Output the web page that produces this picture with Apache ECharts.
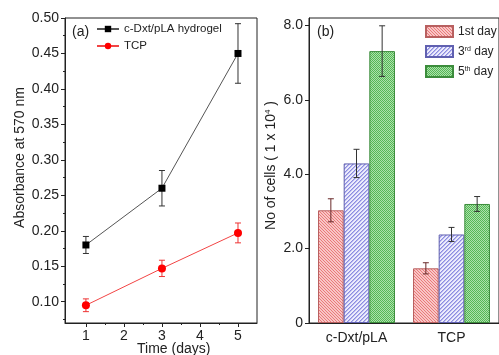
<!DOCTYPE html>
<html>
<head>
<meta charset="utf-8">
<script src="https://cdn.jsdelivr.net/npm/echarts@6/dist/echarts.min.js"></script>
<style>
  html, body { margin: 0; padding: 0; background: #fff; }
  #chart { width: 499px; height: 355px; }
</style>
</head>
<body>
<div id="chart"></div>
<script>
// Panel (a): absorbance over time
const timeDays = [1, 3, 5];
const hydrogelAbs = [0.18, 0.26, 0.45];
const hydrogelErr = [0.012, 0.025, 0.042];
const tcpAbs = [0.095, 0.147, 0.197];
const tcpErr = [0.009, 0.0115, 0.014];
const timeTicks = [1, 2, 3, 4, 5];
const absTicks = [0.10, 0.15, 0.20, 0.25, 0.30, 0.35, 0.40, 0.45, 0.50];

// Panel (b): cell counts (x 10^4)
const substrates = ['c-Dxt/pLA', 'TCP'];
const day1Cells = [3.03, 1.47];
const day1Err = [0.31, 0.15];
const day3Cells = [4.29, 2.38];
const day3Err = [0.38, 0.19];
const day5Cells = [7.31, 3.20];
const day5Err = [0.68, 0.20];
const dayNames = ['1st day', '3rd day', '5th day'];

const FONT = "'Liberation Sans', Arial, Helvetica, sans-serif";
const AX = '#222';

// small tiled fills for the hatched bars
function tile(size, pick) {
  const c = document.createElement('canvas');
  c.width = size; c.height = size;
  const g = c.getContext('2d');
  for (let x = 0; x < size; x++) {
    for (let y = 0; y < size; y++) {
      g.fillStyle = pick(x, y);
      g.fillRect(x, y, 1, 1);
    }
  }
  return { image: c, repeat: 'repeat' };
}
const redHatch = tile(6, (x, y) => (((x - y) % 3 + 3) % 3 === 0 ? '#ea7a7a' : '#f8c6c6'));
const blueHatch = tile(8, (x, y) => {
  const m = (x + y) % 4;
  return m === 0 ? '#8c8ce0' : (m === 1 ? '#b8b8ee' : '#ececfc');
});
const greenHatch = tile(4, (x, y) => ((x + y) % 2 === 0 ? '#55b855' : '#ace0ac'));

const gapRatio = 0.19;

function errLineItem(color) {
  return function (params, api) {
    const x = api.value(0), y = api.value(1), e = api.value(2);
    const top = api.coord([x, y + e]);
    const bot = api.coord([x, y - e]);
    const cx = top[0], hw = 3;
    const st = { stroke: color, lineWidth: 1 };
    return {
      type: 'group',
      children: [
        { type: 'line', shape: { x1: cx, y1: top[1], x2: cx, y2: bot[1] }, style: st },
        { type: 'line', shape: { x1: cx - hw, y1: top[1], x2: cx + hw, y2: top[1] }, style: st },
        { type: 'line', shape: { x1: cx - hw, y1: bot[1], x2: cx + hw, y2: bot[1] }, style: st }
      ]
    };
  };
}

function barErrItem(k, color) {
  return function (params, api) {
    const ci = api.value(0), v = api.value(1), e = api.value(2);
    const band = api.size([1, 0])[0];
    const bw = band * (1 - gapRatio) / 3;
    const c = api.coord([ci, v]);
    const cx = c[0] + (k - 1) * bw;
    const top = api.coord([ci, v + e])[1];
    const bot = api.coord([ci, v - e])[1];
    const hw = 3;
    const st = { stroke: color, lineWidth: 1 };
    return {
      type: 'group',
      children: [
        { type: 'line', shape: { x1: cx, y1: top, x2: cx, y2: bot }, style: st },
        { type: 'line', shape: { x1: cx - hw, y1: top, x2: cx + hw, y2: top }, style: st },
        { type: 'line', shape: { x1: cx - hw, y1: bot, x2: cx + hw, y2: bot }, style: st }
      ]
    };
  };
}

const half = (arr) => arr.slice(0, -1).map((v, i) => +(((v + arr[i + 1]) / 2).toFixed(3)));

const chart = echarts.init(document.getElementById('chart'), null, { renderer: 'canvas' });

const axisLabelStyle = { color: AX, fontFamily: FONT, fontSize: 14 };

chart.setOption({
  animation: false,
  textStyle: { fontFamily: FONT },
  grid: [
    { left: 65, top: 18, width: 192, height: 305, show: true, borderColor: AX, borderWidth: 1, containLabel: false },
    { left: 309, top: 18, width: 192, height: 305, show: true, borderColor: AX, borderWidth: 1, containLabel: false }
  ],
  legend: [
    {
      data: ['c-Dxt/pLA hydrogel', 'TCP'],
      orient: 'vertical', left: 91, top: 18,
      itemWidth: 22, itemHeight: 8, itemGap: 5,
      textStyle: { color: AX, fontFamily: FONT, fontSize: 11.5 }
    },
    {
      data: dayNames,
      orient: 'vertical', left: 420, top: 20,
      itemWidth: 27, itemHeight: 11, itemGap: 7,
      icon: 'rect',
      formatter: function (n) {
        if (n === '3rd day') return '{a|3}{s|rd}{a| day}';
        if (n === '5th day') return '{a|5}{s|th}{a| day}';
        return '{a|' + n + '}';
      },
      textStyle: {
        color: AX, fontFamily: FONT, fontSize: 12,
        rich: {
          a: { fontFamily: FONT, fontSize: 12, color: AX },
          s: { fontFamily: FONT, fontSize: 7, color: AX, verticalAlign: 'top', padding: [0, 0, 5, 0] }
        }
      }
    }
  ],
  graphic: [
    { type: 'text', left: 72, top: 25, style: { text: '(a)', font: '14px ' + FONT, fill: AX } },
    { type: 'text', left: 317, top: 25, style: { text: '(b)', font: '14px ' + FONT, fill: AX } },
    { type: 'text', left: 137, top: 342, style: { text: 'Time (days)', font: '14px ' + FONT, fill: AX } }
  ],
  xAxis: [
    {
      gridIndex: 0, type: 'value', min: 0.45, max: 5.5,
      axisLine: { lineStyle: { color: AX, width: 1 } },
      axisTick: { inside: false, length: 4, lineStyle: { color: AX }, customValues: timeTicks },
      axisLabel: Object.assign({ margin: 6, customValues: timeTicks, formatter: v => String(v) }, axisLabelStyle),
      splitLine: { show: false }
    },
    {
      gridIndex: 0, type: 'value', min: 0.45, max: 5.5, position: 'bottom',
      axisLine: { show: false },
      axisTick: { inside: false, length: 2, lineStyle: { color: AX }, customValues: half(timeTicks) },
      axisLabel: { show: false, customValues: half(timeTicks) },
      splitLine: { show: false }
    },
    {
      gridIndex: 1, type: 'category', data: substrates,
      axisLine: { lineStyle: { color: AX, width: 1 } },
      axisTick: { show: false },
      axisLabel: Object.assign({ margin: 8 }, axisLabelStyle),
      splitLine: { show: false }
    }
  ],
  yAxis: [
    {
      gridIndex: 0, type: 'value', min: 0.07, max: 0.50,
      name: 'Absorbance at 570 nm', nameLocation: 'middle', nameGap: 38,
      nameTextStyle: { color: AX, fontFamily: FONT, fontSize: 14, padding: [0, 0, 0, 26] },
      axisLine: { show: true, lineStyle: { color: AX, width: 1 } },
      axisTick: { show: true, inside: false, length: 4, lineStyle: { color: AX }, customValues: absTicks },
      axisLabel: Object.assign({ margin: 6, customValues: absTicks, formatter: v => v.toFixed(2) }, axisLabelStyle),
      splitLine: { show: false }
    },
    {
      gridIndex: 0, type: 'value', min: 0.07, max: 0.50, position: 'left',
      axisLine: { show: false },
      axisTick: { show: true, inside: false, length: 2, lineStyle: { color: AX }, customValues: [0.075].concat(half(absTicks)) },
      axisLabel: { show: false, customValues: [0.075].concat(half(absTicks)) },
      splitLine: { show: false }
    },
    {
      gridIndex: 1, type: 'value', min: 0, max: 8.2, interval: 2,
      name: 'No of cells ( 1 x 10{sup|4} )', nameLocation: 'middle', nameGap: 31,
      nameTextStyle: {
        color: AX, fontFamily: FONT, fontSize: 14, padding: [0, 0, 0, 10],
        rich: { sup: { fontFamily: FONT, fontSize: 8, color: AX, verticalAlign: 'top', padding: [0, 0, 6, 0] } }
      },
      axisLine: { show: true, lineStyle: { color: AX, width: 1 } },
      axisTick: { show: true, inside: false, length: 4, lineStyle: { color: AX } },
      axisLabel: Object.assign({ margin: 6, formatter: v => (v === 0 ? '0' : v.toFixed(1)) }, axisLabelStyle),
      splitLine: { show: false }
    }
  ],
  series: [
    {
      name: 'c-Dxt/pLA hydrogel', type: 'line', xAxisIndex: 0, yAxisIndex: 0,
      data: timeDays.map((d, i) => [d, hydrogelAbs[i]]),
      symbol: 'rect', symbolSize: 7,
      lineStyle: { color: '#555', width: 1 },
      itemStyle: { color: '#000' }, z: 3
    },
    {
      name: 'TCP', type: 'line', xAxisIndex: 0, yAxisIndex: 0,
      data: timeDays.map((d, i) => [d, tcpAbs[i]]),
      symbol: 'circle', symbolSize: 8,
      lineStyle: { color: '#f24444', width: 1 },
      itemStyle: { color: '#f00' }, z: 3
    },
    {
      type: 'custom', xAxisIndex: 0, yAxisIndex: 0, z: 2,
      data: timeDays.map((d, i) => [d, hydrogelAbs[i], hydrogelErr[i]]),
      renderItem: errLineItem('#333')
    },
    {
      type: 'custom', xAxisIndex: 0, yAxisIndex: 0, z: 2,
      data: timeDays.map((d, i) => [d, tcpAbs[i], tcpErr[i]]),
      renderItem: errLineItem('#e33')
    },
    {
      name: dayNames[0], type: 'bar', xAxisIndex: 2, yAxisIndex: 2,
      data: day1Cells, barGap: '0%', barCategoryGap: '19%',
      itemStyle: { color: redHatch, borderColor: '#b86060', borderWidth: 1 }
    },
    {
      name: dayNames[1], type: 'bar', xAxisIndex: 2, yAxisIndex: 2,
      data: day3Cells, barGap: '0%', barCategoryGap: '19%',
      itemStyle: { color: blueHatch, borderColor: '#6060b0', borderWidth: 1 }
    },
    {
      name: dayNames[2], type: 'bar', xAxisIndex: 2, yAxisIndex: 2,
      data: day5Cells, barGap: '0%', barCategoryGap: '19%',
      itemStyle: { color: greenHatch, borderColor: '#3c8c3c', borderWidth: 1 }
    },
    {
      type: 'custom', xAxisIndex: 2, yAxisIndex: 2, z: 5,
      data: substrates.map((s, i) => [i, day1Cells[i], day1Err[i]]),
      renderItem: barErrItem(0, '#6a2a2a')
    },
    {
      type: 'custom', xAxisIndex: 2, yAxisIndex: 2, z: 5,
      data: substrates.map((s, i) => [i, day3Cells[i], day3Err[i]]),
      renderItem: barErrItem(1, '#333')
    },
    {
      type: 'custom', xAxisIndex: 2, yAxisIndex: 2, z: 5,
      data: substrates.map((s, i) => [i, day5Cells[i], day5Err[i]]),
      renderItem: barErrItem(2, '#333')
    }
  ]
});
</script>
</body>
</html>
